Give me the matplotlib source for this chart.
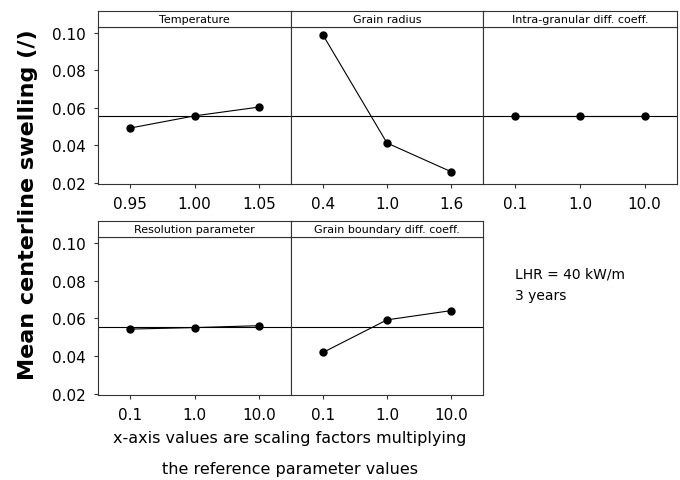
import matplotlib
matplotlib.use("Agg")
import matplotlib.pyplot as plt

# ---- data ----
factors = ["Temperature", "Grain radius", "Intra-granular diff. coeff.",
           "Resolution parameter", "Grain boundary diff. coeff."]
levels_temp = ["0.95", "1.00", "1.05"]
levels_grain = ["0.4", "1.0", "1.6"]
levels_intra = ["0.1", "1.0", "10.0"]
levels_resol = ["0.1", "1.0", "10.0"]
levels_gb = ["0.1", "1.0", "10.0"]
swell_temp = [0.0492, 0.0557, 0.0604]
swell_grain = [0.0989, 0.0412, 0.0259]
swell_intra = [0.0555, 0.0555, 0.0555]
swell_resol = [0.0543, 0.0551, 0.0561]
swell_gb = [0.0419, 0.0592, 0.0641]
grand_mean = 0.0555
yticks = [0.02, 0.04, 0.06, 0.08, 0.10]

levels = [levels_temp, levels_grain, levels_intra, levels_resol, levels_gb]
values = [swell_temp, swell_grain, swell_intra, swell_resol, swell_gb]

W, H = 680, 481
fig = plt.figure(figsize=(W / 100, H / 100), dpi=100)

cols = [(98, 291), (291, 483), (483, 677)]
rows = [(12, 28, 185), (222, 238, 396)]
spine_c = "#333333"

for i in range(5):
    r, c = divmod(i, 3)
    x0, x1 = cols[c]
    ys, yd, yb = rows[r]
    # data axes
    ax = fig.add_axes([x0 / W, 1 - yb / H, (x1 - x0) / W, (yb - yd) / H])
    ax.plot(range(3), values[i], color="black", lw=0.8, marker="o",
            markersize=5, zorder=3)
    ax.axhline(grand_mean, color="black", lw=0.8, zorder=2)
    ax.set_xlim(-0.5, 2.5)
    ax.set_ylim(0.0193, 0.1032)
    ax.set_xticks(range(3))
    ax.set_xticklabels(levels[i])
    ax.set_yticks(yticks)
    ax.tick_params(axis="both", direction="out", length=3, width=0.8,
                   colors=spine_c, labelcolor="black", labelsize=11, pad=6)
    if c == 0:
        ax.set_yticklabels([f"{v:.2f}" for v in yticks])
    else:
        ax.tick_params(axis="y", left=False, labelleft=False)
    for s in ax.spines.values():
        s.set_color(spine_c)
        s.set_linewidth(0.8)
    # strip
    sa = fig.add_axes([x0 / W, 1 - yd / H, (x1 - x0) / W, (yd - ys) / H])
    sa.set_xticks([])
    sa.set_yticks([])
    for s in sa.spines.values():
        s.set_color(spine_c)
        s.set_linewidth(0.8)
    sa.text(0.5, 0.5, factors[i], ha="center", va="center", fontsize=8,
            transform=sa.transAxes)

fig.text(28 / W, 1 - 205 / H, "Mean centerline swelling (/)", rotation=90,
         ha="center", va="center", fontsize=16, fontweight="bold")
fig.text(290 / W, 1 - 439 / H, "x-axis values are scaling factors multiplying",
         ha="center", va="center", fontsize=11.5)
fig.text(290 / W, 1 - 470 / H, "the reference parameter values",
         ha="center", va="center", fontsize=11.5)
fig.text(515 / W, 1 - 275 / H, "LHR = 40 kW/m", ha="left", va="center",
         fontsize=10)
fig.text(515 / W, 1 - 296 / H, "3 years", ha="left", va="center",
         fontsize=10)

fig.savefig("out.png", dpi=100)
